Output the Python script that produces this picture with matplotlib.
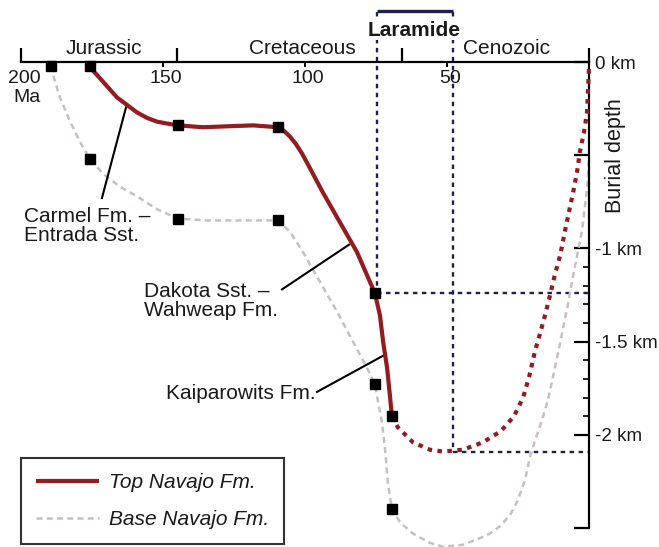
import matplotlib
matplotlib.use("Agg")
import matplotlib.pyplot as plt
from matplotlib.lines import Line2D

plt.rcParams['font.family'] = ['Liberation Sans', 'DejaVu Sans']

# ---- data (age in Ma, burial depth in km, negative downward) ----
top_solid_age = [175.7, 173.2, 169.7, 166.2, 162.7, 159.2, 155.6, 152.1, 148.6, 144.7,
                 135.9, 127.5, 118.3, 109.5, 107.4, 105.3, 103.2, 101.1, 99.3, 93.7, 87.7,
                 81.7, 75.4, 73.6, 72.5, 71.1, 70.1, 69.4]
top_solid_depth = [-0.03, -0.07, -0.13, -0.19, -0.23, -0.27, -0.30, -0.32, -0.33, -0.34,
                   -0.35, -0.345, -0.34, -0.35, -0.37, -0.40, -0.44, -0.49, -0.54, -0.70,
                   -0.86, -1.02, -1.24, -1.36, -1.50, -1.64, -1.79, -1.90]

top_dot_age = [69.4, 67.3, 62.0, 56.0, 51.4, 44.4, 37.3, 31.0, 26.4, 23.2, 21.1, 19.0, 17.3,
               15.5, 13.7, 12.0, 10.2, 8.5, 7.0, 5.6, 4.2, 3.2, 1.8, 0.7, 0.0]
top_dot_depth = [-1.90, -1.96, -2.04, -2.08, -2.09, -2.08, -2.04, -1.98, -1.90, -1.80, -1.69,
                 -1.55, -1.46, -1.36, -1.25, -1.14, -1.04, -0.91, -0.80, -0.70, -0.59, -0.48,
                 -0.38, -0.27, -0.03]

base_age = [189.4, 188.7, 186.3, 182.7, 179.2, 175.7, 171.1, 165.1, 159.2, 152.1, 144.7,
            134.5, 123.9, 115.8, 109.5, 105.3, 100.7, 94.7, 88.7, 83.1, 78.2, 75.4, 74.3,
            72.9, 71.8, 70.8, 69.4, 66.5, 62.0, 56.0, 51.4, 44.4, 37.7, 34.9, 31.3, 27.8,
            25.0, 22.5, 20.8, 19.0, 16.5, 14.4, 12.0, 10.2, 8.5, 7.4, 6.0, 4.2, 2.5, 1.4,
            0.4, 0.0]
base_depth = [-0.02, -0.07, -0.19, -0.32, -0.43, -0.52, -0.60, -0.67, -0.72, -0.79, -0.84,
              -0.85, -0.85, -0.85, -0.85, -0.91, -1.02, -1.18, -1.34, -1.50, -1.64, -1.73,
              -1.82, -1.93, -2.08, -2.26, -2.40, -2.47, -2.53, -2.58, -2.60, -2.59, -2.55,
              -2.53, -2.49, -2.43, -2.35, -2.24, -2.12, -2.03, -1.92, -1.81, -1.64, -1.51,
              -1.38, -1.30, -1.18, -1.04, -0.91, -0.77, -0.64, -0.52]

top_pts_age = [175.7, 144.7, 109.5, 75.4, 69.4]
top_pts_depth = [-0.02, -0.34, -0.35, -1.24, -1.90]
base_pts_age = [189.4, 175.7, 144.7, 109.5, 75.4, 69.4]
base_pts_depth = [-0.02, -0.52, -0.84, -0.85, -1.73, -2.40]

laramide_start, laramide_end = 74.7, 47.9
ref_depth_1 = -1.24
ref_depth_2 = -2.09

period_bounds = [200, 145, 66, 0]
periods = ["Jurassic", "Cretaceous", "Cenozoic"]
period_centers = [170.8, 101.0, 28.9]
age_ticks = [150, 100, 50]
depth_major = [0, -0.5, -1, -1.5, -2, -2.5]
depth_labels = ["0 km", "", "-1 km", "-1.5 km", "-2 km", ""]
depth_minor = [-1.1, -1.2, -1.3, -1.4, -1.6, -1.7, -1.8, -1.9]

RED = '#921c1f'
GRAY = '#c9bfbf'
NAVY = '#1e1e50'
TXT = '#1a1a1a'

fig = plt.figure(figsize=(6.59, 5.47), dpi=100)
ax = fig.add_axes([21/659, 1-528/547, 568/659, 466/547])
ax.set_xlim(200, 0)
ax.set_ylim(-2.5, 0)

for s in ['left', 'bottom']:
    ax.spines[s].set_visible(False)
for s in ['top', 'right']:
    ax.spines[s].set_linewidth(1.6)

# x ticks (top)
ax.xaxis.tick_top()
ax.set_xticks(period_bounds)
ax.set_xticks(age_ticks, minor=True)
ax.tick_params(axis='x', which='major', direction='out', length=10, width=1.6, labeltop=False)
ax.tick_params(axis='x', which='minor', direction='in', length=3.5, width=1.4, labeltop=False)

# y ticks (right)
ax.yaxis.tick_right()
ax.set_yticks(depth_major, depth_labels)
ax.set_yticks(depth_minor, minor=True)
ax.tick_params(axis='y', which='major', direction='in', length=11, width=1.6, pad=4,
               labelsize=13.5, labelcolor=TXT)
ax.tick_params(axis='y', which='minor', direction='in', length=4.5, width=1.2)

# curves
ax.plot(base_age, base_depth, color=GRAY, lw=1.8, linestyle=(0, (2.4, 1.7)), clip_on=False, zorder=2)
ax.plot(top_solid_age, top_solid_depth, color=RED, lw=3, solid_capstyle='butt',
        solid_joinstyle='round', clip_on=False, zorder=3)
ax.plot(top_dot_age, top_dot_depth, color=RED, lw=3, linestyle=(0, (1.1, 1.3)), clip_on=False, zorder=3)

# Laramide reference lines
dash = (0, (1.9, 1.9))
ax.plot([laramide_start, laramide_start], [0.27, ref_depth_1], color=NAVY, lw=1.7,
        linestyle=dash, clip_on=False, zorder=1)
ax.plot([laramide_end, laramide_end], [0.27, ref_depth_2], color=NAVY, lw=1.7,
        linestyle=dash, clip_on=False, zorder=1)
ax.plot([laramide_start, 0], [ref_depth_1, ref_depth_1], color=NAVY, lw=1.7,
        linestyle=dash, clip_on=False, zorder=1)
ax.plot([laramide_end, 0], [ref_depth_2, ref_depth_2], color=NAVY, lw=1.7,
        linestyle=dash, clip_on=False, zorder=1)
ax.plot([laramide_start, laramide_end], [0.275, 0.275], color=NAVY, lw=2.4,
        solid_capstyle='butt', clip_on=False)
ax.text((laramide_start + laramide_end) / 2 + 0.1, 0.17, "Laramide", ha='center', va='center',
        fontsize=15, fontweight='bold', color=TXT, zorder=4,
        bbox=dict(facecolor='white', edgecolor='none', pad=0.5))

# markers
ax.plot(top_pts_age, top_pts_depth, 's', color='black', ms=7.5, clip_on=False, zorder=5)
ax.plot(base_pts_age, base_pts_depth, 's', color='black', ms=7.5, clip_on=False, zorder=5)

# period labels and age labels
for name, c in zip(periods, period_centers):
    ax.text(c, 0.07, name, ha='center', va='center', fontsize=15, color=TXT)
ax.text(198.9, -0.086, "200", ha='center', va='center', fontsize=14, color=TXT)
ax.text(197.9, -0.193, "Ma", ha='center', va='center', fontsize=14, color=TXT)
for t in age_ticks:
    ax.text(t - 1, -0.086, str(t), ha='center', va='center', fontsize=14, color=TXT)

ax.text(1.046, -0.5, "Burial depth", rotation=90, ha='center', va='center', fontsize=15.5,
        color=TXT, transform=ax.get_yaxis_transform())

# annotations
ax.plot([171.5, 162.7], [-0.73, -0.225], color='black', lw=1.5)
ax.text(198.9, -0.88, "Carmel Fm. –\nEntrada Sst.", ha='left', va='center', fontsize=15,
        linespacing=1.0, color=TXT)
ax.plot([108.1, 84.5], [-1.22, -0.98], color='black', lw=1.5)
ax.text(156.7, -1.28, "Dakota Sst. –\nWahweap Fm.", ha='left', va='center', fontsize=15,
        linespacing=1.0, color=TXT)
ax.plot([95.8, 71.8], [-1.77, -1.57], color='black', lw=1.5)
ax.text(96.3, -1.78, "Kaiparowits Fm.", ha='right', va='center', fontsize=15, color=TXT)

# legend
handles = [Line2D([], [], color=RED, lw=3, solid_capstyle='butt'),
           Line2D([], [], color=GRAY, lw=1.8, linestyle=(0, (2.4, 1.7)))]
leg = fig.legend(handles, ["Top Navajo Fm.", "Base Navajo Fm."], loc='lower left',
                 bbox_to_anchor=(21/659, 1-544/547), bbox_transform=fig.transFigure,
                 borderaxespad=0, fancybox=False, frameon=True, handlelength=3.0,
                 handletextpad=0.5, borderpad=0.72, labelspacing=0.85,
                 prop={'style': 'italic', 'size': 15})
leg.get_frame().set_edgecolor('black')
leg.get_frame().set_linewidth(1.5)
for t in leg.get_texts():
    t.set_color(TXT)

fig.savefig("out.png", dpi=100)
